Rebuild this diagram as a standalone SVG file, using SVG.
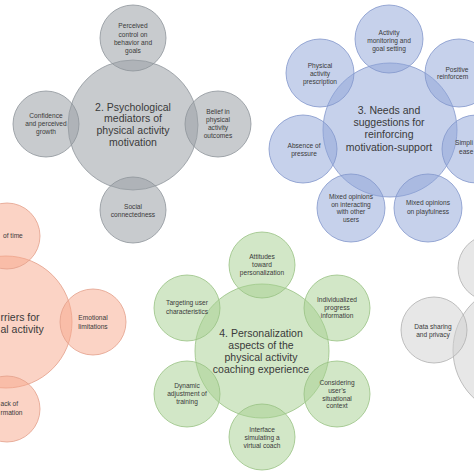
<svg xmlns="http://www.w3.org/2000/svg" width="474" height="474" viewBox="0 0 474 474">
<style>
text { font-family: "Liberation Sans", Arial, sans-serif; fill: #3a3a3a; text-anchor: middle; }
.t { font-size: 6.6px; }
.h { font-size: 10.5px; }
.e { text-anchor: end; }
.s { text-anchor: start; }
.gray circle { fill: #9aa0a6; fill-opacity: .55; stroke: #8e949a; stroke-width: .8; }
.blue circle { fill: #8ea3d8; fill-opacity: .5; stroke: #8397cb; stroke-width: .8; }
.orange circle { fill: #f8a88c; fill-opacity: .5; stroke: #e3a08a; stroke-width: .8; }
.green circle { fill: #a6d08f; fill-opacity: .5; stroke: #98c283; stroke-width: .8; }
.lgray circle { fill: #cfcfcf; fill-opacity: .5; stroke: #b0b0b0; stroke-width: .8; }
</style>
<rect width="474" height="474" fill="#ffffff"/>

<!-- Cluster 2: gray -->
<g class="gray" id="cluster2">
  <g id="n2-center"><circle cx="133" cy="125" r="65"/>
    <text class="h" x="133" y="110.7">2. Psychological</text>
    <text class="h" x="133" y="122.4">mediators of</text>
    <text class="h" x="133" y="134">physical activity</text>
    <text class="h" x="133" y="145.7">motivation</text></g>
  <g id="n2-top"><circle cx="133" cy="38" r="33"/>
    <text class="t" x="133" y="28.3">Perceived</text>
    <text class="t" x="133" y="36.6">control on</text>
    <text class="t" x="133" y="44.9">behavior and</text>
    <text class="t" x="133" y="53.3">goals</text></g>
  <g id="n2-left"><circle cx="46" cy="124" r="33"/>
    <text class="t" x="46" y="118.3">Confidence</text>
    <text class="t" x="46" y="126.3">and perceived</text>
    <text class="t" x="46" y="134.3">growth</text></g>
  <g id="n2-right"><circle cx="218" cy="124" r="33"/>
    <text class="t" x="218" y="114.3">Belief in</text>
    <text class="t" x="218" y="122.3">physical</text>
    <text class="t" x="218" y="130.3">activity</text>
    <text class="t" x="218" y="138.3">outcomes</text></g>
  <g id="n2-bottom"><circle cx="133" cy="210" r="33"/>
    <text class="t" x="133" y="209.3">Social</text>
    <text class="t" x="133" y="217.3">connectedness</text></g>
</g>

<!-- Cluster 3: blue -->
<g class="blue" id="cluster3">
  <g id="n3-center"><circle cx="390" cy="130" r="67"/>
    <text class="h" x="389" y="113.7">3. Needs and</text>
    <text class="h" x="389" y="126">suggestions for</text>
    <text class="h" x="389" y="138.3">reinforcing</text>
    <text class="h" x="389" y="150.7">motivation-support</text></g>
  <g id="n3-monitoring"><circle cx="389" cy="39" r="34"/>
    <text class="t" x="389" y="35.3">Activity</text>
    <text class="t" x="389" y="43.3">monitoring and</text>
    <text class="t" x="389" y="51.3">goal setting</text></g>
  <g id="n3-positive"><circle cx="459" cy="73" r="34"/>
    <text class="t" x="457" y="72.3">Positive</text>
    <text class="t s" x="437" y="79.3">reinforcem</text></g>
  <g id="n3-simplicity"><circle cx="476" cy="149" r="34"/>
    <text class="t s" x="455" y="145.3">Simpli</text>
    <text class="t s" x="459" y="154.3">ease</text></g>
  <g id="n3-playfulness"><circle cx="428" cy="208" r="34"/>
    <text class="t" x="428" y="205.3">Mixed opinions</text>
    <text class="t" x="428" y="214.3">on playfulness</text></g>
  <g id="n3-interacting"><circle cx="351" cy="208" r="34"/>
    <text class="t" x="351" y="199.3">Mixed opinions</text>
    <text class="t" x="351" y="206.8">on interacting</text>
    <text class="t" x="351" y="214.3">with other</text>
    <text class="t" x="351" y="222.3">users</text></g>
  <g id="n3-pressure"><circle cx="303" cy="149" r="34"/>
    <text class="t" x="304" y="147.5">Absence of</text>
    <text class="t" x="304" y="155.5">pressure</text></g>
  <g id="n3-prescription"><circle cx="320" cy="73" r="34"/>
    <text class="t" x="320" y="68.3">Physical</text>
    <text class="t" x="320" y="76">activity</text>
    <text class="t" x="320" y="83.5">prescription</text></g>
</g>

<!-- Cluster 1: orange -->
<g class="orange" id="cluster1">
  <g id="n1-center"><circle cx="6" cy="322" r="66"/>
    <text class="h s" x="0.5" y="320.7">rriers for</text>
    <text class="h s" x="0.5" y="332.7">al activity</text></g>
  <g id="n1-time"><circle cx="7" cy="236" r="33"/>
    <text class="t s" x="3" y="238.3">of time</text></g>
  <g id="n1-emotional"><circle cx="93" cy="322" r="33"/>
    <text class="t" x="93" y="320.3">Emotional</text>
    <text class="t" x="93" y="329.3">limitations</text></g>
  <g id="n1-information"><circle cx="7" cy="409" r="33"/>
    <text class="t s" x="0.5" y="406.3">ack of</text>
    <text class="t s" x="0.5" y="415.3">rmation</text></g>
</g>

<!-- Cluster 4: green -->
<g class="green" id="cluster4">
  <g id="n4-center"><circle cx="262" cy="351" r="67"/>
    <text class="h" x="261" y="336.7">4. Personalization</text>
    <text class="h" x="261" y="348.7">aspects of the</text>
    <text class="h" x="261" y="360.7">physical activity</text>
    <text class="h" x="261" y="372.7">coaching experience</text></g>
  <g id="n4-attitudes"><circle cx="262" cy="265" r="33"/>
    <text class="t" x="262" y="259.3">Attitudes</text>
    <text class="t" x="262" y="267.3">toward</text>
    <text class="t" x="262" y="275.3">personalization</text></g>
  <g id="n4-progress"><circle cx="337" cy="308" r="33"/>
    <text class="t" x="337" y="302.3">Individualized</text>
    <text class="t" x="337" y="310.3">progress</text>
    <text class="t" x="337" y="318.3">information</text></g>
  <g id="n4-context"><circle cx="337" cy="394" r="33"/>
    <text class="t" x="337" y="385.3">Considering</text>
    <text class="t" x="337" y="393">user’s</text>
    <text class="t" x="337" y="400.5">situational</text>
    <text class="t" x="337" y="408.3">context</text></g>
  <g id="n4-interface"><circle cx="262" cy="437" r="33"/>
    <text class="t" x="262" y="432.3">Interface</text>
    <text class="t" x="262" y="440.3">simulating a</text>
    <text class="t" x="262" y="448.3">virtual coach</text></g>
  <g id="n4-dynamic"><circle cx="187" cy="394" r="33"/>
    <text class="t" x="187" y="388.3">Dynamic</text>
    <text class="t" x="187" y="396">adjustment of</text>
    <text class="t" x="187" y="404.3">training</text></g>
  <g id="n4-targeting"><circle cx="187" cy="308" r="33"/>
    <text class="t" x="187" y="305.3">Targeting user</text>
    <text class="t" x="187" y="314.3">characteristics</text></g>
</g>

<!-- Cluster 5: light gray -->
<g class="lgray" id="cluster5">
  <g id="n5-center"><circle cx="519" cy="350" r="66"/></g>
  <g id="n5-top"><circle cx="491" cy="268" r="33"/></g>
  <g id="n5-data"><circle cx="434" cy="330" r="33"/>
    <text class="t" x="433" y="329.3">Data sharing</text>
    <text class="t" x="433" y="337.3">and privacy</text></g>
</g>
</svg>
